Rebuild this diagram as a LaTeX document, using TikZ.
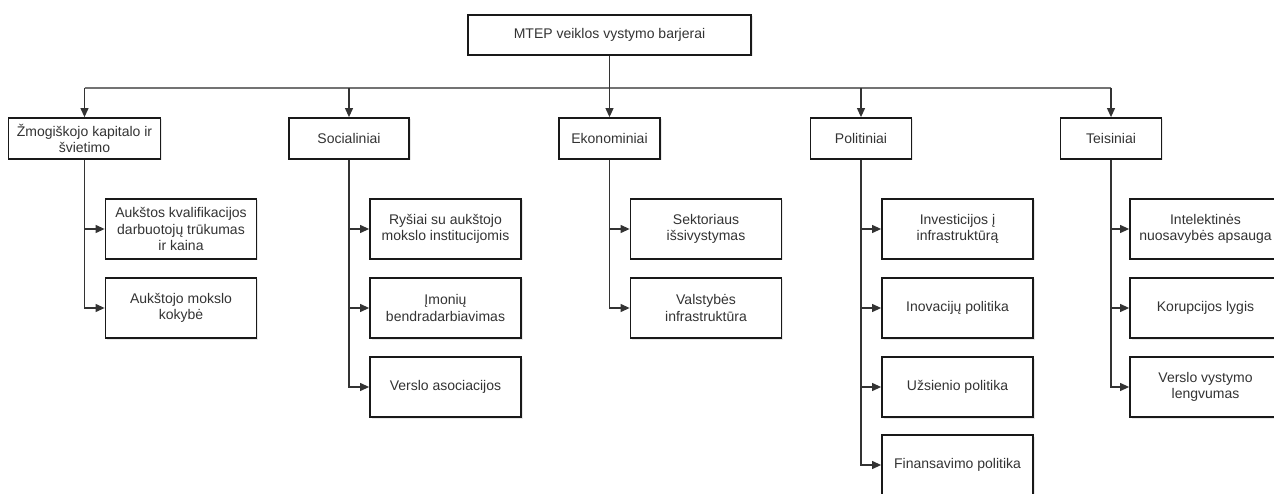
\documentclass[tikz,border=0pt]{standalone}
\usepackage{fontspec}
\setmainfont{Liberation Sans}
\usetikzlibrary{arrows.meta,shadows}
\begin{document}
\begin{tikzpicture}[x=1pt,y=-1pt,
  box/.style={draw=black!90, line width=1.8pt, fill=white, align=center,
    text=black!80, font=\fontsize{14}{16.6}\selectfont, inner sep=0pt,
    drop shadow={shadow xshift=1.5pt, shadow yshift=-1.5pt, opacity=0.18}},
  topbox/.style={box, minimum width=283pt, minimum height=40pt},
  lvlone/.style={box, minimum width=101pt, minimum height=41pt},
  lvltwo/.style={box, minimum width=151pt, minimum height=60pt},
  conn/.style={draw=black!80, line width=1.1pt},
  busline/.style={draw=black!55, line width=1.2pt},
  arr/.style={conn, -{Triangle[length=9pt,width=8pt]}}
]
\useasboundingbox (0,0) rectangle (1274,494);
\clip (0,0) rectangle (1274,494);
\fill[white] (0,0) rectangle (1274,494);

% top
\node[topbox] (top) at (609.5,35) {MTEP veiklos vystymo barjerai};

% level 1
\node[lvlone, minimum width=152pt] (zm) at (84.5,138.5) {Žmogiškojo kapitalo ir\\švietimo};
\node[lvlone, minimum width=120pt] (so) at (349,138.5) {Socialiniai};
\node[lvlone] (ek) at (609.5,138.5) {Ekonominiai};
\node[lvlone] (po) at (861,138.5) {Politiniai};
\node[lvlone] (te) at (1111,138.5) {Teisiniai};

% bus
\coordinate (busL) at (84.5,88);
\coordinate (busR) at (1111,88);
\draw[busline] (busL) -- (busR);
\draw[conn] (top.south) -- (top.south |- busL);
\foreach \n in {zm,so,ek,po,te} \draw[arr] (\n.north |- busL) -- (\n.north);

% level 2 - column 1
\node[lvltwo] (z1) at (181,229) {Aukštos kvalifikacijos\\darbuotojų trūkumas\\ir kaina};
\node[lvltwo] (z2) at (181,308) {Aukštojo mokslo\\kokybė};
% column 2
\node[lvltwo] (s1) at (445.5,229) {Ryšiai su aukštojo\\mokslo institucijomis};
\node[lvltwo] (s2) at (445.5,308) {Įmonių\\bendradarbiavimas};
\node[lvltwo] (s3) at (445.5,387) {Verslo asociacijos};
% column 3
\node[lvltwo] (e1) at (706,229) {Sektoriaus\\išsivystymas};
\node[lvltwo] (e2) at (706,308) {Valstybės\\infrastruktūra};
% column 4
\node[lvltwo] (p1) at (957.5,229) {Investicijos į\\infrastruktūrą};
\node[lvltwo] (p2) at (957.5,308) {Inovacijų politika};
\node[lvltwo] (p3) at (957.5,387) {Užsienio politika};
\node[lvltwo] (p4) at (957.5,465) {Finansavimo politika};
% column 5
\node[lvltwo] (t1) at (1205.5,229) {Intelektinės\\nuosavybės apsauga};
\node[lvltwo] (t2) at (1205.5,308) {Korupcijos lygis};
\node[lvltwo] (t3) at (1205.5,387) {Verslo vystymo\\lengvumas};

\foreach \p/\c in {zm/z1,zm/z2,so/s1,so/s2,so/s3,ek/e1,ek/e2,po/p1,po/p2,po/p3,po/p4,te/t1,te/t2,te/t3}
  \draw[arr] (\p.south) |- (\c.west);
\end{tikzpicture}
\end{document}
